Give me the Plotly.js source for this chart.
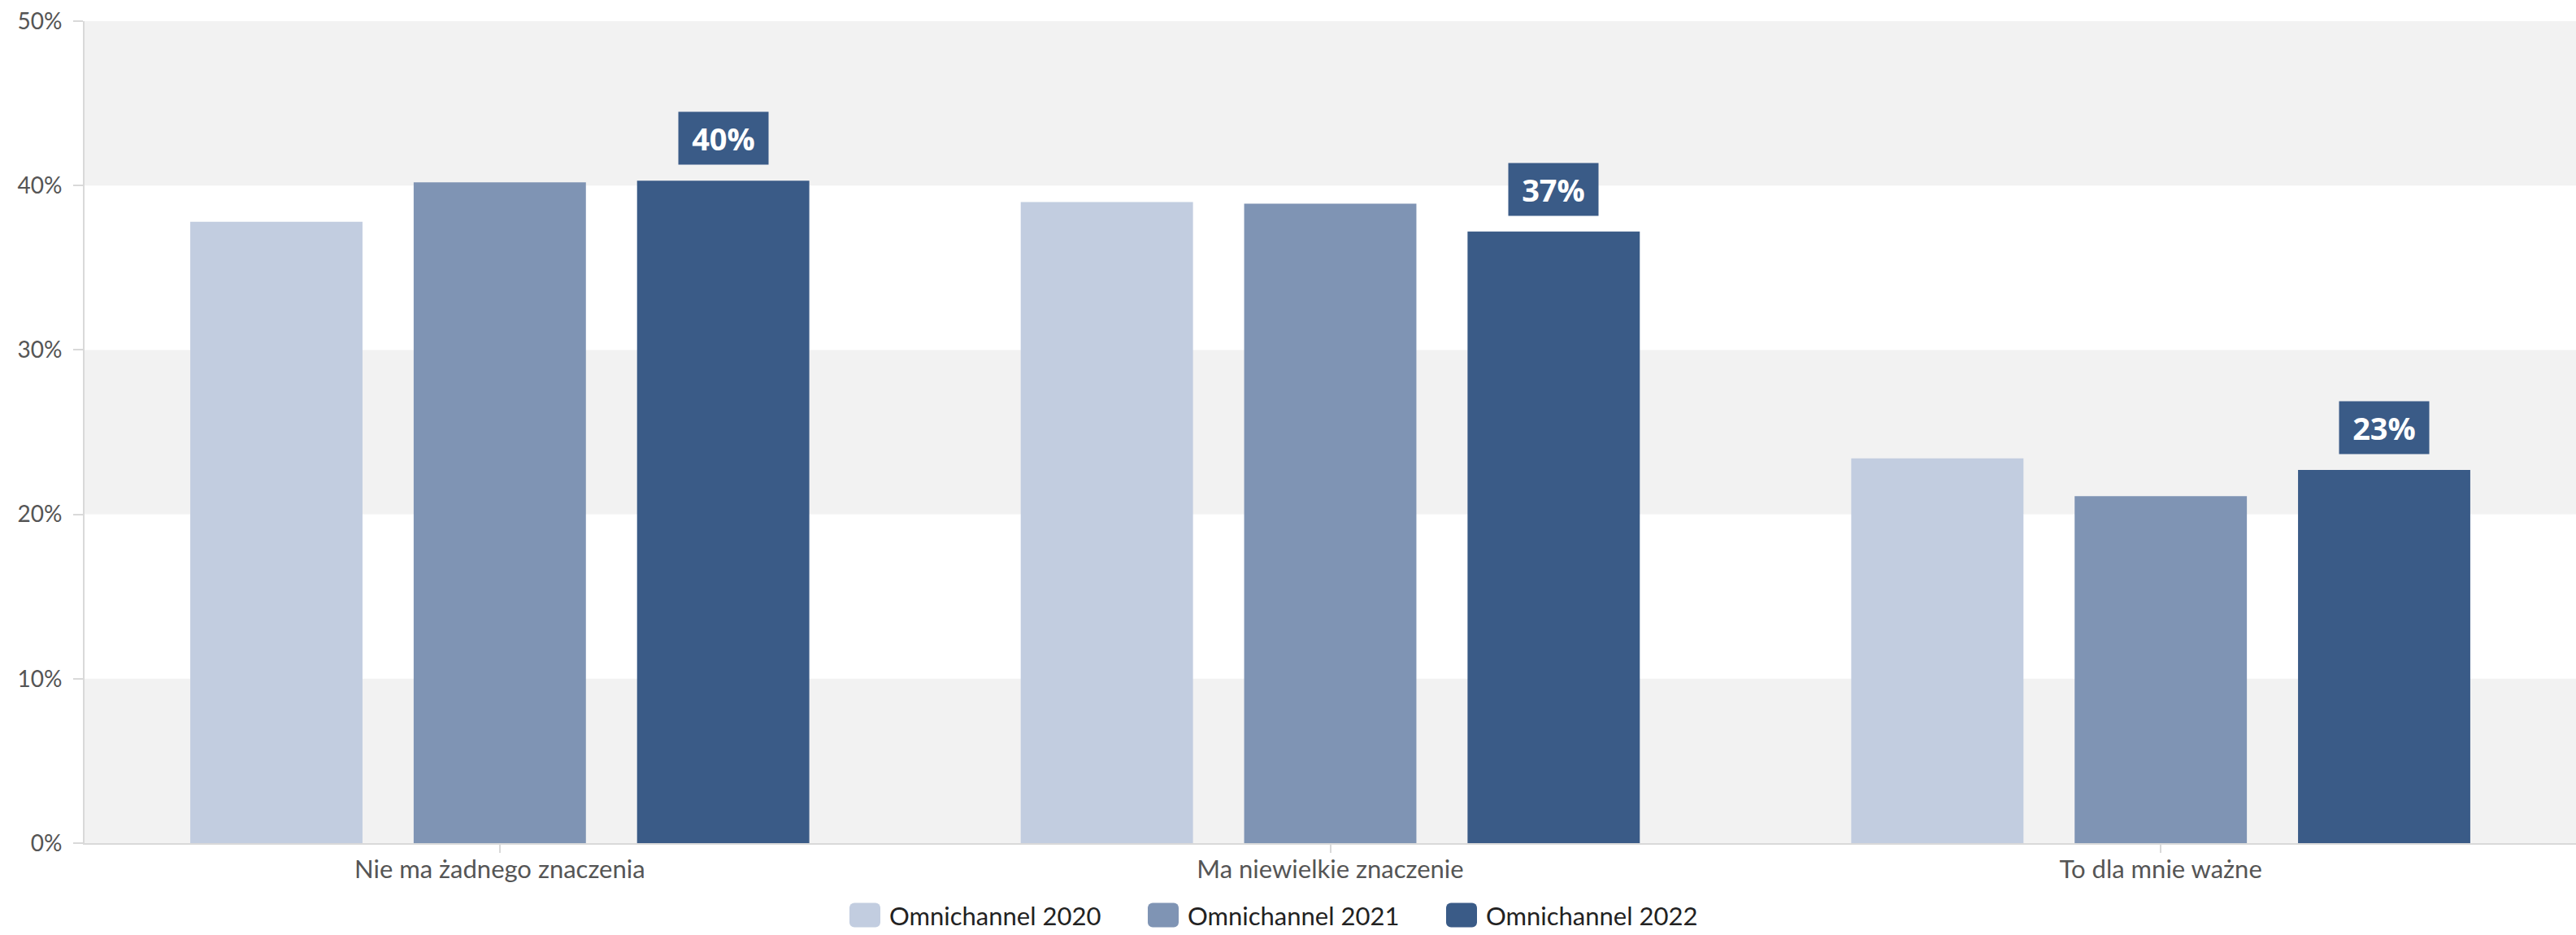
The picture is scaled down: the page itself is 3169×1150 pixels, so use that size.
<!DOCTYPE html>
<html>
<head>
<meta charset="utf-8">
<script src="https://cdn.plot.ly/plotly-3.0.1.min.js"></script>
<style>
  html, body { margin: 0; padding: 0; background: #ffffff; }
  #chart { width: 3169px; height: 1150px; }
</style>
</head>
<body>
<div id="chart"></div>
<script>
// ---- data ----
const categories = ["Nie ma żadnego znaczenia", "Ma niewielkie znaczenie", "To dla mnie ważne"];
const seriesNames = ["Omnichannel 2020", "Omnichannel 2021", "Omnichannel 2022"];
const values2020 = [37.8, 39.0, 23.4];
const values2021 = [40.2, 38.9, 21.1];
const values2022 = [40.3, 37.2, 22.7];
const yTickVals = [0, 10, 20, 30, 40, 50];
const yTickText = ["0%", "10%", "20%", "30%", "40%", "50%"];

// ---- styles ----
const colors = ["#c2cde0", "#7f94b4", "#3a5b87"];
const bargap = 0.193;
const bargroupgap = 0.229;
const tickFont = "Lato, 'Open Sans', sans-serif";

const seriesValues = [values2020, values2021, values2022];
const traces = seriesValues.map((vals, i) => ({
  type: "bar",
  name: seriesNames[i],
  x: categories.map((_, k) => k),
  y: vals,
  marker: { color: colors[i], line: { width: 0 } },
  hoverinfo: "skip"
}));

// alternating background bands
const shapes = [];
for (let b = 0; b < yTickVals.length - 1; b += 2) {
  shapes.push({
    type: "rect", xref: "paper", yref: "y", layer: "below",
    x0: 0, x1: 1, y0: yTickVals[b], y1: yTickVals[b + 1],
    fillcolor: "#f2f2f2", line: { width: 0 }
  });
}

// value labels above 2022 bars
const slot = (1 - bargap) / seriesValues.length;
const annotations = values2022.map((v, k) => ({
  x: k + slot, y: v, xref: "x", yref: "y",
  text: Math.round(v) + "%",
  showarrow: false, yanchor: "bottom", yshift: 19,
  width: 108, height: 62,
  bgcolor: "#3a5b87",
  font: { family: "'Open Sans', sans-serif", size: 38, color: "#ffffff", weight: 700 }
}));

const layout = {
  width: 3169, height: 1150,
  margin: { l: 104, r: 0, t: 26, b: 113 },
  paper_bgcolor: "#ffffff", plot_bgcolor: "rgba(0,0,0,0)",
  barmode: "group", bargap: bargap, bargroupgap: bargroupgap,
  showlegend: true,
  legend: {
    orientation: "h", xref: "container", x: 0.5, xanchor: "center",
    yref: "container", y: 0.021, yanchor: "middle",
    font: { family: tickFont, size: 31, color: "#222222" },
    itemwidth: 50, entrywidthmode: "pixels", entrywidth: 302,
    traceorder: "normal"
  },
  xaxis: {
    type: "linear", range: [-0.5, 2.5],
    tickmode: "array", tickvals: [0, 1, 2], ticktext: categories,
    showgrid: false, zeroline: false,
    showline: true, linecolor: "#d9d9d9", linewidth: 2,
    ticks: "outside", ticklen: 10, tickwidth: 2, tickcolor: "#d9d9d9",
    tickfont: { family: tickFont, size: 31, color: "#555555" },
    ticklabelstandoff: -6
  },
  yaxis: {
    range: [0, 50], tickmode: "array", tickvals: yTickVals, ticktext: yTickText,
    showgrid: false, zeroline: false,
    showline: true, linecolor: "#d9d9d9", linewidth: 2,
    ticks: "outside", ticklen: 12, tickwidth: 2, tickcolor: "#d9d9d9",
    tickfont: { family: tickFont, size: 28, color: "#555555" },
    ticklabelstandoff: 8
  },
  shapes: shapes,
  annotations: annotations
};

Plotly.newPlot("chart", traces, layout, { staticPlot: true, displayModeBar: false }).then(() => {
  // enlarge legend swatches to rounded rectangles like the reference
  document.querySelectorAll("#chart .legendpoints path").forEach(p => {
    p.setAttribute("d", "M-13,-15h26a6,6 0 0 1 6,6v18a6,6 0 0 1 -6,6h-26a6,6 0 0 1 -6,-6v-18a6,6 0 0 1 6,-6z");
  });
});
</script>
</body>
</html>
